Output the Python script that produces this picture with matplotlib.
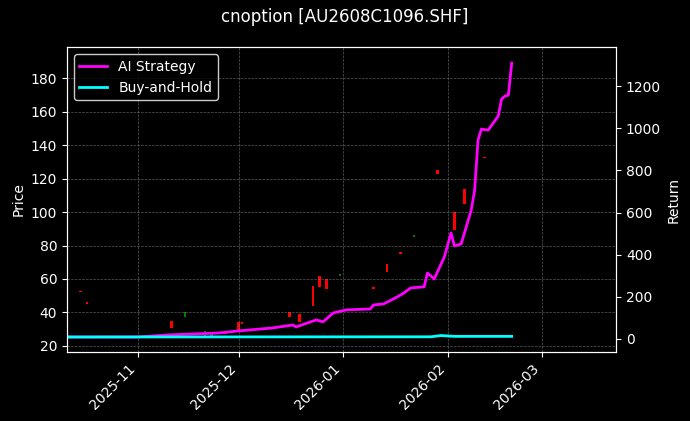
import numpy as np
import pandas as pd
import matplotlib
matplotlib.use("Agg")
import matplotlib.pyplot as plt
import matplotlib.dates as mdates
from matplotlib.ticker import MultipleLocator

# candles (price axis)
candle_dates = ["2025-10-15", "2025-10-17", "2025-11-11", "2025-11-15", "2025-11-19", "2025-11-21",
                "2025-11-23", "2025-11-27", "2025-12-01", "2025-12-02", "2025-12-16", "2025-12-19",
                "2025-12-23", "2025-12-25", "2025-12-27", "2025-12-31", "2026-01-10", "2026-01-14",
                "2026-01-18", "2026-01-22", "2026-01-29", "2026-02-03", "2026-02-06", "2026-02-12"]
opens  = [52, 45, 31, 40, 28, 29, 28, 27, 29, 33, 37, 34, 44, 55, 54, 63, 54, 64, 75, 86, 123, 89, 105, 132]
closes = [53, 46, 35, 37, 27, 26, 26, 28, 34, 34, 40, 39, 56, 62, 60, 62, 55, 69, 76, 85, 125, 100, 114, 133]

# strategy / benchmark returns (%)
strat_dates = ["2025-10-11", "2025-11-01", "2025-11-10", "2025-11-25", "2025-12-01", "2025-12-11",
               "2025-12-17", "2025-12-18", "2025-12-24", "2025-12-26", "2025-12-29", "2026-01-02",
               "2026-01-09", "2026-01-10", "2026-01-13", "2026-01-17", "2026-01-19", "2026-01-21",
               "2026-01-25", "2026-01-26", "2026-01-28", "2026-01-31", "2026-02-02", "2026-02-03",
               "2026-02-05", "2026-02-08", "2026-02-09", "2026-02-10", "2026-02-11", "2026-02-13",
               "2026-02-16", "2026-02-17", "2026-02-18", "2026-02-19", "2026-02-20"]
strat_ret = [9, 9, 19, 28, 38, 52, 66, 57, 90, 81, 123, 138, 142, 161, 166, 199, 218, 242,
             247, 313, 285, 389, 503, 441, 451, 612, 707, 944, 996, 991, 1058, 1139, 1153, 1157, 1309]
bh_dates = ["2025-10-11", "2026-01-27", "2026-01-30", "2026-02-03", "2026-02-20"]
bh_ret = [9, 10, 16, 12, 12]

plt.style.use("dark_background")
fig, ax = plt.subplots(figsize=(6.9, 4.21), dpi=100)
fig.patch.set_facecolor("black")
ax.set_facecolor("black")

cd = pd.to_datetime(candle_dates)
for d, o, c in zip(cd, opens, closes):
    col = "red" if c >= o else "green"
    lo, hi = min(o, c), max(o, c)
    ax.bar(d, max(hi - lo, 0.6), bottom=lo, width=0.8, color=col)

ax.set_ylim(16.4, 198.5)
ax.yaxis.set_major_locator(MultipleLocator(20))
ax.set_ylabel("Price")
ax.grid(True, color="gray", linestyle="--", linewidth=0.5, alpha=0.7)

ax2 = ax.twinx()
l1, = ax2.plot(pd.to_datetime(strat_dates), strat_ret, color="magenta", lw=2, label="AI Strategy")
l2, = ax2.plot(pd.to_datetime(bh_dates), bh_ret, color="cyan", lw=2, label="Buy-and-Hold")
ax2.set_ylim(-62, 1385)
ax2.set_ylabel("Return")

ax.set_xlim(pd.Timestamp("2025-10-11"), pd.Timestamp("2026-03-23"))
ax.xaxis.set_major_locator(mdates.MonthLocator())
ax.xaxis.set_major_formatter(mdates.DateFormatter("%Y-%m"))
plt.setp(ax.get_xticklabels(), rotation=45, ha="right")

leg = ax2.legend(handles=[l1, l2], loc="upper left", facecolor="black", edgecolor="white")
fig.suptitle("cnoption [AU2608C1096.SHF]")
fig.subplots_adjust(left=0.097, right=0.893, top=0.888, bottom=0.164)
fig.savefig("out.png", dpi=100, facecolor="black")
